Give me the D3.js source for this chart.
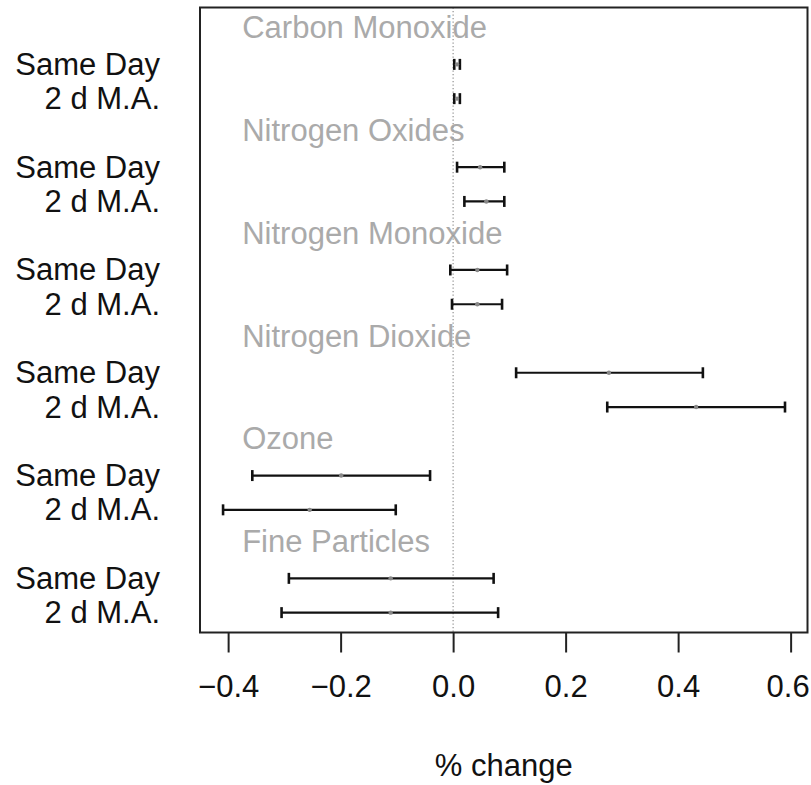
<!DOCTYPE html>
<html>
  <head>
    <meta charset="utf-8">
    <title></title>
  </head>
  <style>
  body{
      font-family: "Liberation Sans", Arial, sans-serif;
      background-color: #fff;
      margin:0;
      padding:0
    }
    .axis path { display: none }
    .axis .tick line { stroke: #222; stroke-width: 2 }
    .axis .tick text { font-size: 31px; fill: #111 }
  </style>
  <script src="https://d3js.org/d3.v7.min.js"></script>
  <body>
    <script>
    // pollutant groups, top to bottom
    var pollutants = ["Carbon Monoxide", "Nitrogen Oxides", "Nitrogen Monoxide",
                      "Nitrogen Dioxide", "Ozone", "Fine Particles"]
    var lagLabels = ["Same Day", "2 d M.A."]

    // estimate, lower and upper limits (% change), one pair per pollutant
    var sameDayEst = [0.007, 0.048, 0.043, 0.277, -0.199, -0.111]
    var sameDayLo  = [0.002, 0.007, -0.005, 0.112, -0.357, -0.292]
    var sameDayHi  = [0.012, 0.091, 0.096, 0.444, -0.041, 0.072]

    var maEst = [0.007, 0.059, 0.043, 0.432, -0.255, -0.111]
    var maLo  = [0.002, 0.020, -0.002, 0.274, -0.409, -0.305]
    var maHi  = [0.012, 0.091, 0.087, 0.590, -0.102, 0.080]

    var xTicks = [-0.4, -0.2, 0.0, 0.2, 0.4, 0.6]
    var headerX = -0.375

    var W = 811, H = 785
    var box = { left: 200, right: 807.5, top: 7.5, bottom: 632.5 }

    var svg = d3.select("body").append("svg")
                .attr("width", W).attr("height", H)

    var x = d3.scaleLinear().domain([-0.45, 0.63]).range([box.left, box.right])
    // 3 slots per pollutant: header, same day, moving average
    var y = d3.scaleLinear().domain([0.34, 18.58]).range([box.top, box.bottom])

    var rows = []
    pollutants.forEach(function(p, i){
      rows.push({ slot: i*3 + 2, lab: lagLabels[0], est: sameDayEst[i], lo: sameDayLo[i], hi: sameDayHi[i] })
      rows.push({ slot: i*3 + 3, lab: lagLabels[1], est: maEst[i], lo: maLo[i], hi: maHi[i] })
    })

    // group headers
    svg.append("g").selectAll("text")
       .data(pollutants)
       .enter().append("text")
       .attr("x", x(headerX))
       .attr("y", function(d, i){ return y(i*3 + 1) + 8 })
       .attr("font-size", "31px")
       .attr("fill", "#aaaaaa")
       .text(function(d){ return d })

    // zero reference line
    svg.append("line")
       .attr("x1", x(0)).attr("x2", x(0))
       .attr("y1", box.top).attr("y2", box.bottom)
       .attr("stroke", "#999")
       .attr("stroke-width", 1.3)
       .attr("stroke-dasharray", "1.3,2.2")

    // row labels
    svg.append("g").selectAll("text")
       .data(rows)
       .enter().append("text")
       .attr("x", 160)
       .attr("y", function(d){ return y(d.slot) + 10.5 })
       .attr("text-anchor", "end")
       .attr("font-size", "31px")
       .attr("fill", "#111")
       .text(function(d){ return d.lab })

    // interval bars
    var bars = svg.append("g").selectAll("g")
                  .data(rows)
                  .enter().append("g")
                  .attr("stroke", "#111")
                  .attr("stroke-width", 2.2)

    bars.append("line")
        .attr("x1", function(d){ return x(d.lo) })
        .attr("x2", function(d){ return x(d.hi) })
        .attr("y1", function(d){ return y(d.slot) })
        .attr("y2", function(d){ return y(d.slot) })

    bars.append("line")
        .attr("x1", function(d){ return x(d.lo) })
        .attr("x2", function(d){ return x(d.lo) })
        .attr("y1", function(d){ return y(d.slot) - 5.5 })
        .attr("y2", function(d){ return y(d.slot) + 5.5 })
        .attr("stroke-width", 2.6)

    bars.append("line")
        .attr("x1", function(d){ return x(d.hi) })
        .attr("x2", function(d){ return x(d.hi) })
        .attr("y1", function(d){ return y(d.slot) - 5.5 })
        .attr("y2", function(d){ return y(d.slot) + 5.5 })
        .attr("stroke-width", 2.6)

    svg.append("g").selectAll("circle")
       .data(rows)
       .enter().append("circle")
       .attr("cx", function(d){ return x(d.est) })
       .attr("cy", function(d){ return y(d.slot) })
       .attr("r", 2.2)
       .attr("fill", "#888")

    // plot frame
    svg.append("rect")
       .attr("x", box.left).attr("y", box.top)
       .attr("width", box.right - box.left)
       .attr("height", box.bottom - box.top)
       .attr("fill", "none")
       .attr("stroke", "#222")
       .attr("stroke-width", 2)

    // x axis
    var xAxis = svg.append("g")
       .attr("class", "axis")
       .attr("transform", "translate(0," + box.bottom + ")")
       .call(d3.axisBottom(x).tickValues(xTicks).tickSize(20).tickPadding(22)
               .tickFormat(d3.format(".1f")))

    // keep the last label inside the page
    xAxis.selectAll(".tick:last-of-type text").attr("dx", "-3")

    svg.append("text")
       .attr("x", x(0.09))
       .attr("y", 776)
       .attr("text-anchor", "middle")
       .attr("font-size", "31px")
       .attr("fill", "#111")
       .text("% change")
    </script>
  </body>
</html>
